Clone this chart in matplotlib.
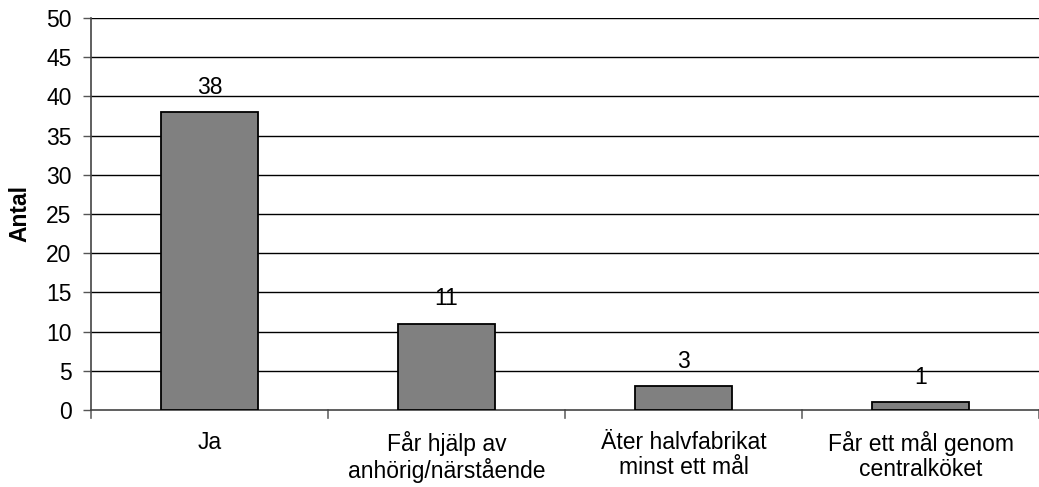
import matplotlib
matplotlib.use("Agg")
import matplotlib.pyplot as plt
import numpy as np

categories = ["Ja", "Får hjälp av\nanhörig/närstående", "Äter halvfabrikat\nminst ett mål", "Får ett mål genom\ncentralköket"]
values = [38, 11, 3, 1]
yticks = [0, 5, 10, 15, 20, 25, 30, 35, 40, 45, 50]

FS = 16.5
plt.rcParams['font.family'] = ['Liberation Sans', 'DejaVu Sans']
fig = plt.figure(figsize=(10.39, 4.87), dpi=100)
ax = fig.add_axes([91/1039, 1-410/487, 1-91/1039, (410-18)/487])

x = np.arange(len(categories))
ax.bar(x, values, width=0.41, color="#808080", edgecolor="black", linewidth=1.3, zorder=3)
for xi, v in zip(x, values):
    ax.text(xi, v + 1.7, str(v), ha="center", va="bottom", fontsize=FS)

ax.set_xlim(-0.5, len(categories) - 0.5)
ax.set_ylim(0, 50)
ax.set_yticks(yticks)
ax.set_yticklabels([str(t) for t in yticks], fontsize=FS)
for t in yticks[1:]:
    ax.axhline(t, color="black", linewidth=1.0, zorder=1)

ax.set_xticks(x)
ax.set_xticklabels(categories, fontsize=FS, linespacing=1.1)
ax.tick_params(axis="x", length=0, pad=15)
for b in np.arange(-0.5, len(categories) + 0.5, 1.0):
    ax.plot([b, b], [0, -0.02], transform=ax.get_xaxis_transform(), color="#666666", linewidth=1.2, clip_on=False)
ax.tick_params(axis="y", length=6, width=1, color="#555555", pad=8)

ax.spines["top"].set_visible(False)
ax.spines["right"].set_visible(False)
ax.spines["left"].set_color("#444444")
ax.spines["left"].set_linewidth(1.2)
ax.spines["bottom"].set_color("#444444")
ax.spines["bottom"].set_linewidth(1.2)

ax.set_ylabel("Antal", fontsize=FS, fontweight="bold")
ax.yaxis.set_label_coords(-0.063, 0.5)

fig.savefig("out.png", dpi=100)
